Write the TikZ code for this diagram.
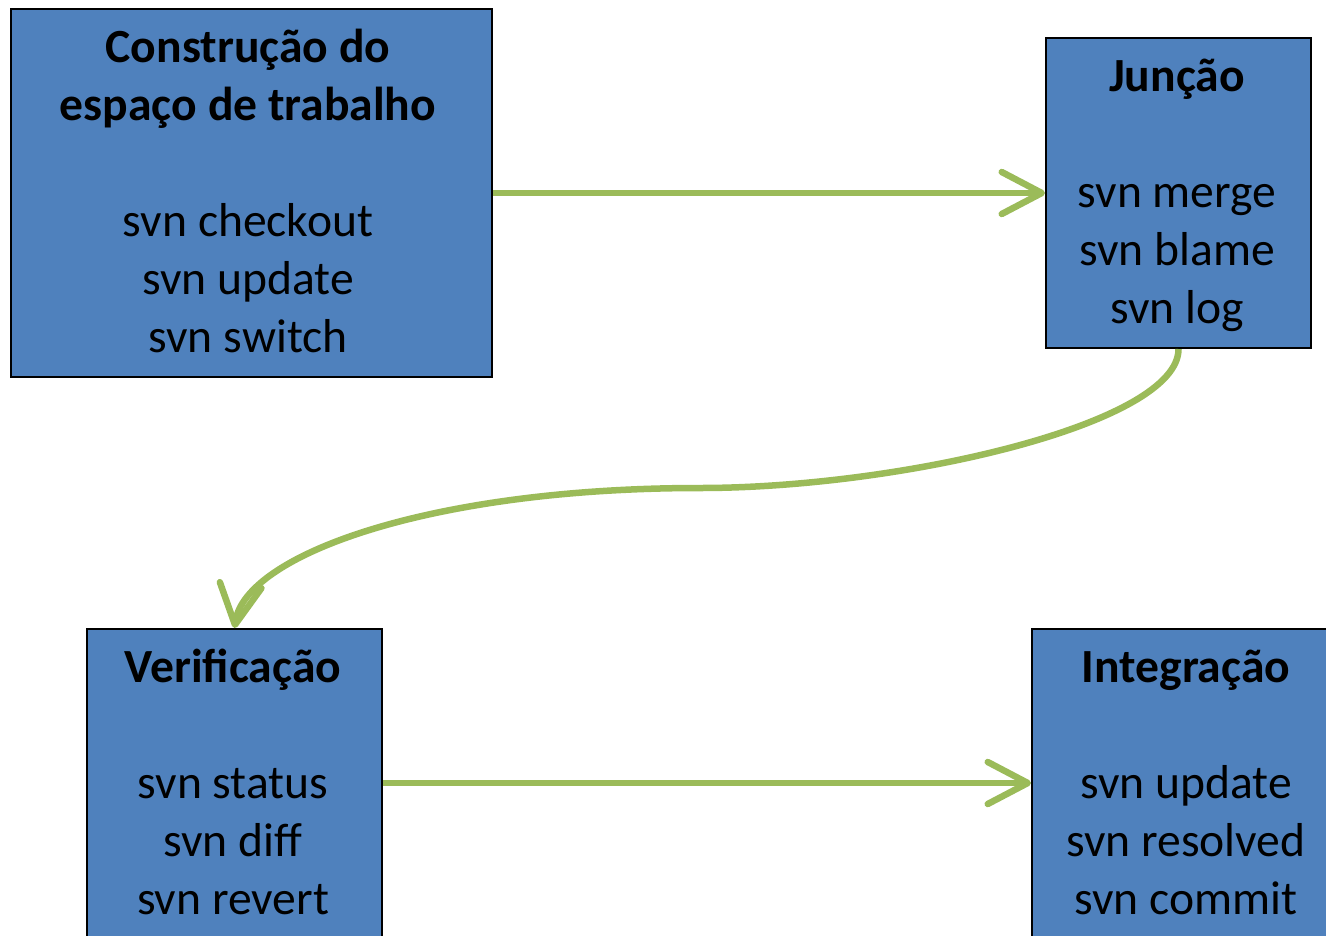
\documentclass[tikz,border=0pt]{standalone}
\usepackage{fontspec}
\setmainfont{Carlito}
\usetikzlibrary{arrows.meta}
\definecolor{boxblue}{HTML}{4F81BD}
\definecolor{flowgreen}{HTML}{9BBB59}
\begin{document}
\begin{tikzpicture}[x=1pt,y=-1pt,
  box/.style={draw=black, line width=2pt, fill=boxblue, inner sep=0pt, anchor=north west},
  lbl/.style={anchor=base, inner sep=0pt, font=\fontsize{47.6}{58}\selectfont},
  flow/.style={draw=flowgreen, line width=6.5pt,
    -{Straight Barb[length=40pt, width=42pt, round]}}]
\useasboundingbox (0,0) rectangle (1326,935);
\clip (0,0) rectangle (1326,935);
% stage boxes
\node[box, minimum width=481pt, minimum height=368pt] (A) at (10,8) {};
\node[box, minimum width=265pt, minimum height=310pt] (B) at (1045,37) {};
\node[box, minimum width=295pt, minimum height=308pt] (C) at (86,628) {};
\node[box, minimum width=310pt, minimum height=308pt] (D) at (1031,628) {};
% stage texts
\node[lbl] (tA) at (248,62) {\begin{tabular}[t]{@{}c@{}}\bfseries Construção do\\ \bfseries espaço de trabalho\\ \\ svn checkout\\ svn update\\ svn switch\end{tabular}};
\node[lbl] (tB) at (1177,91) {\begin{tabular}[t]{@{}c@{}}\bfseries Junção\\ \\ svn merge\\ svn blame\\ svn log\end{tabular}};
\node[lbl] (tC) at (233,682) {\begin{tabular}[t]{@{}c@{}}\bfseries Verificação\\ \\ svn status\\ svn diff\\ svn revert\end{tabular}};
\node[lbl] (tD) at (1186,682) {\begin{tabular}[t]{@{}c@{}}\bfseries Integração\\ \\ svn update\\ svn resolved\\ svn commit\end{tabular}};
% flow between stages
\draw[flow] (A.east) -- (B.west);
\draw[flow] (B.south) .. controls ++(0,75) and (900,488) .. (700,488)
  .. controls (430,488) and (245,555) .. (C.north);
\draw[flow] (C.east) -- (D.west);
\end{tikzpicture}
\end{document}
